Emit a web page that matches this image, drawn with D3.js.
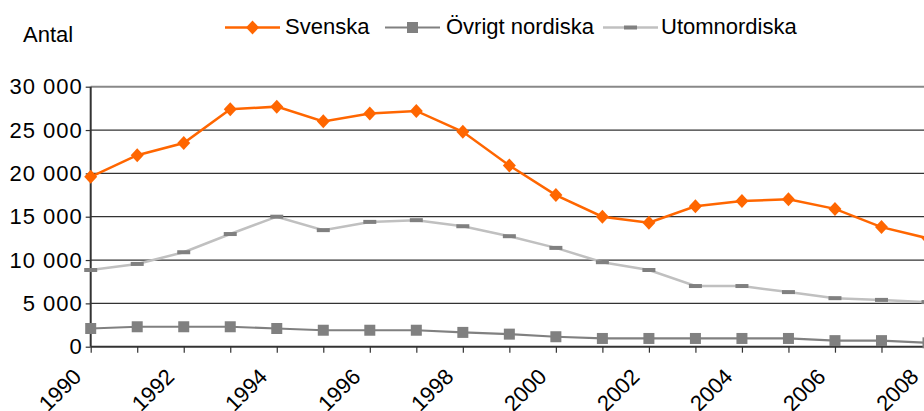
<!DOCTYPE html>
<html><head><meta charset="utf-8">
<script src="https://cdn.jsdelivr.net/npm/d3@7"></script>
<style>body{margin:0;background:#fff}svg{display:block}text{font-family:"Liberation Sans",Arial,sans-serif;fill:#000}</style>
</head><body>
<svg id="c" width="924" height="411"></svg>
<script>
const years = [1990,1991,1992,1993,1994,1995,1996,1997,1998,1999,2000,2001,2002,2003,2004,2005,2006,2007,2008];
const svenska = [19600,22100,23500,27400,27700,26000,26900,27200,24800,20900,17500,15000,14300,16200,16800,17000,15900,13800,12500];
const ovrigtNordiska = [2100,2300,2300,2300,2100,1900,1900,1900,1650,1450,1150,950,950,950,950,950,700,700,450];
const utomnordiska = [8850,9550,10900,13000,15000,13450,14400,14600,13900,12750,11400,9750,8850,7000,7000,6300,5600,5400,5150];
const yTicks = [0,5000,10000,15000,20000,25000,30000];
const xLabelYears = [1990,1992,1994,1996,1998,2000,2002,2004,2006,2008];
const seriesNames = ["Svenska","Övrigt nordiska","Utomnordiska"];

const svg = d3.select("#c");
const x = d3.scaleLinear().domain([1990,2008]).range([90.7,928]);
const y = d3.scaleLinear().domain([0,30000]).range([346.7,86.7]);
const fmt = v => d3.format(",")(v).replace(/,/g," ");

// gridlines
svg.append("g").selectAll("line").data(yTicks.filter(v=>v>0&&v<30000)).join("line")
  .attr("x1",x(1990)).attr("x2",930).attr("y1",d=>y(d)).attr("y2",d=>y(d))
  .attr("stroke","#333").attr("stroke-width",1.2);
svg.append("line").attr("x1",x(1990)).attr("x2",930).attr("y1",y(30000)).attr("y2",y(30000))
  .attr("stroke","#888").attr("stroke-width",2);

// y axis
const ya = svg.append("g").attr("transform",`translate(${x(1990)},0)`)
  .call(d3.axisLeft(y).tickValues(yTicks).tickFormat(fmt).tickSize(5).tickPadding(3));
ya.select(".domain").attr("stroke","#333").attr("stroke-width",2).attr("d",`M0,${y(30000)}V${y(0)}`);
ya.selectAll(".tick line").attr("stroke","#333").attr("stroke-width",1.2);
ya.selectAll(".tick text").attr("font-size",22).attr("letter-spacing","1px").attr("font-family","Liberation Sans, Arial").attr("fill","#000");

// x axis
const xa = svg.append("g").attr("transform",`translate(0,${y(0)})`)
  .call(d3.axisBottom(x).tickValues(years).tickFormat("").tickSize(6));
xa.select(".domain").attr("stroke","#333").attr("stroke-width",2).attr("d",`M${x(1990)},0H930`);
xa.selectAll(".tick line").attr("stroke","#333").attr("stroke-width",1.2);
svg.append("g").selectAll("text").data(xLabelYears).join("text")
  .attr("transform",d=>`translate(${x(d)-8},378) rotate(-45)`)
  .attr("text-anchor","end").attr("font-size",22).text(d=>d);

// lines
const line = d3.line().x((d,i)=>x(years[i])).y(d=>y(d));
svg.append("path").datum(utomnordiska).attr("d",line).attr("fill","none").attr("stroke","#C0C0C0").attr("stroke-width",2.5);
svg.append("path").datum(ovrigtNordiska).attr("d",line).attr("fill","none").attr("stroke","#808080").attr("stroke-width",2.2);
svg.append("path").datum(svenska).attr("d",line).attr("fill","none").attr("stroke","#FF6600").attr("stroke-width",2.5);

// markers
svg.append("g").selectAll("rect").data(utomnordiska).join("rect")
  .attr("x",(d,i)=>x(years[i])-6.5).attr("y",d=>y(d)-2).attr("width",13).attr("height",4).attr("fill","#808080");
svg.append("g").selectAll("rect").data(ovrigtNordiska).join("rect")
  .attr("x",(d,i)=>x(years[i])-5.5).attr("y",d=>y(d)-5.5).attr("width",11).attr("height",11).attr("fill","#808080");
const diamond = "M0,-7L6.5,0L0,7L-6.5,0Z";
svg.append("g").selectAll("path").data(svenska).join("path")
  .attr("d",diamond).attr("transform",(d,i)=>`translate(${x(years[i])},${y(d)})`).attr("fill","#FF6600");

// y title
svg.append("text").attr("x",23).attr("y",41.5).attr("font-size",22).text("Antal");

// legend
const leg = [
  {name:seriesNames[0], x0:225, tx:285, col:"#FF6600", lw:2.5, mk:"d"},
  {name:seriesNames[1], x0:385, tx:446, col:"#808080", lw:2.2, mk:"s"},
  {name:seriesNames[2], x0:603, tx:661, col:"#C0C0C0", lw:2.5, mk:"dash"}
];
const ly = 27.5;
leg.forEach(l=>{
  svg.append("line").attr("x1",l.x0).attr("x2",l.x0+55).attr("y1",ly).attr("y2",ly).attr("stroke",l.col).attr("stroke-width",l.lw);
  const cx = l.x0+27.5;
  if(l.mk==="d") svg.append("path").attr("d",diamond).attr("transform",`translate(${cx},${ly})`).attr("fill","#FF6600");
  else if(l.mk==="s") svg.append("rect").attr("x",cx-5.5).attr("y",ly-5.5).attr("width",11).attr("height",11).attr("fill","#808080");
  else svg.append("rect").attr("x",cx-6.5).attr("y",ly-2).attr("width",13).attr("height",4).attr("fill","#808080");
  svg.append("text").attr("x",l.tx).attr("y",ly+6).attr("font-size",22).text(l.name);
});
</script>
</body></html>
